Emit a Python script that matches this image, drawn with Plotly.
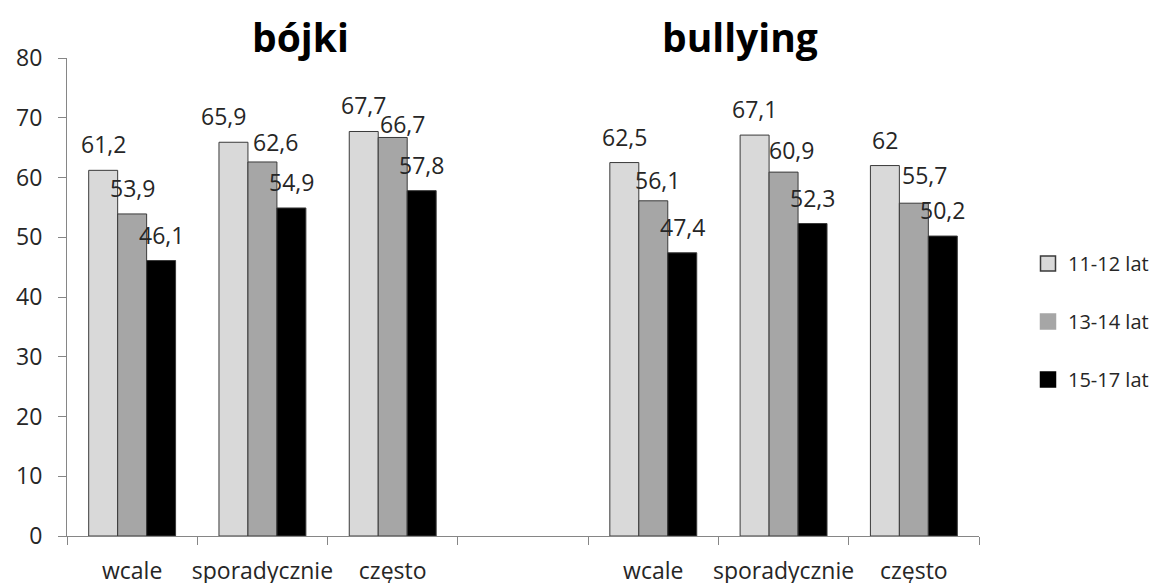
import plotly.graph_objects as go

# ---- data ----
categories = ["wcale", "sporadycznie", "często", "", "wcale", "sporadycznie", "często"]
series_names = ["11-12 lat", "13-14 lat", "15-17 lat"]
vals_11_12 = [61.2, 65.9, 67.7, None, 62.5, 67.1, 62.0]
vals_13_14 = [53.9, 62.6, 66.7, None, 56.1, 60.9, 55.7]
vals_15_17 = [46.1, 54.9, 57.8, None, 47.4, 52.3, 50.2]
panel_titles = ["bójki", "bullying"]
y_ticks = [0, 10, 20, 30, 40, 50, 60, 70, 80]

series_values = [vals_11_12, vals_13_14, vals_15_17]
colors = ["#D9D9D9", "#A6A6A6", "#000000"]
FONT = "Open Sans"
FS = 23
BARGAP = 0.333

# manual label nudges (pixels) as placed in the original chart: (series, category) -> (dx, dy)
label_nudge = {
    (0, 1): (-10, 0), (1, 1): (13, -6), (1, 2): (10, -13),
    (1, 4): (4, -5), (1, 5): (8, -4), (1, 6): (11, 2),
}

x_pos = list(range(len(categories)))


def fmt(v):
    return f"{v:g}".replace(".", ",")


fig = go.Figure()
for i, (name, vals) in enumerate(zip(series_names, series_values)):
    fig.add_trace(go.Bar(
        x=x_pos, y=vals, name=name, showlegend=False,
        marker=dict(color=colors[i], line=dict(color="#3a3a3a", width=1)),
    ))
# legend proxies (larger square keys)
legend_lines = ["#3a3a3a", "#A6A6A6", "#000000"]
for i, name in enumerate(series_names):
    fig.add_trace(go.Scatter(
        x=[None], y=[None], mode="markers", name=name, legendgroup=name,
        marker=dict(symbol="square", size=15, color=colors[i],
                    line=dict(color=legend_lines[i], width=1.5)),
    ))

annotations = []
bw = (1 - BARGAP) / len(series_names)
for i, vals in enumerate(series_values):
    off = (i - (len(series_names) - 1) / 2) * bw
    for j, (x, v) in enumerate(zip(x_pos, vals)):
        if v is None:
            continue
        dx, dy = label_nudge.get((i, j), (0, 0))
        annotations.append(dict(
            x=x + off, y=v, xref="x", yref="y", text=fmt(v), showarrow=False,
            xanchor="center", yanchor="middle", yshift=26 + dy, xshift=dx,
            font=dict(family=FONT, size=FS, color="#262626"),
        ))

# panel titles
for t, px in zip(panel_titles, [300, 740]):
    annotations.append(dict(x=(px - 67) / 912, y=0.985, xref="paper", yref="paper",
                            text="<b>%s</b>" % t, showarrow=False,
                            xanchor="center", yanchor="bottom",
                            font=dict(family=FONT, size=39, color="#000")))

# the page body adds an 8px offset, so the figure is sized to fit the window
fig.update_layout(
    width=1155, height=575,
    margin=dict(l=59, r=184, t=50, b=47),
    paper_bgcolor="white", plot_bgcolor="white",
    barmode="group", bargap=BARGAP, bargroupgap=0,
    font=dict(family=FONT, size=FS, color="#262626"),
    showlegend=True,
    legend=dict(xref="container", yref="container", x=1020 / 1155, xanchor="left",
                y=1 - 236 / 575, yanchor="top",
                tracegroupgap=29, font=dict(family=FONT, size=20, color="#262626"),
                bgcolor="rgba(0,0,0,0)", itemwidth=30),
    annotations=annotations,
)
fig.update_xaxes(
    range=[-0.5, len(categories) - 0.5], automargin=False,
    tickmode="array", tickvals=x_pos, ticktext=categories,
    ticks="", showgrid=False, zeroline=False,
    showline=True, linecolor="#868686", linewidth=1,
    ticklabelstandoff=14,
    minor=dict(tick0=-0.5, dtick=1, ticks="outside", ticklen=8,
               tickcolor="#868686", showgrid=False),
)
fig.update_yaxes(
    range=[0, 80], tickmode="array", tickvals=y_ticks, automargin=False,
    ticks="outside", ticklen=8, tickcolor="#868686",
    showgrid=False, zeroline=False,
    showline=True, linecolor="#868686", linewidth=1,
    ticklabelstandoff=11,
)

fig.write_html("out.html")
